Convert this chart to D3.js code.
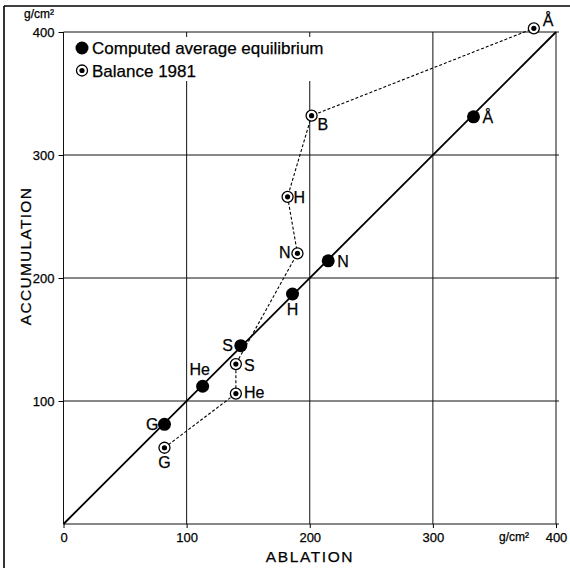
<!DOCTYPE html>
<html>
<head>
<meta charset="utf-8">
<script src="https://cdn.jsdelivr.net/npm/d3@7/dist/d3.min.js"></script>
<style>
  html, body { margin: 0; padding: 0; background: #fff; }
  svg { display: block; font-family: "Liberation Sans", Arial, Helvetica, sans-serif; }
  text { fill: #000; stroke: #000; stroke-width: 0.25; }
</style>
</head>
<body>
<svg id="chart" width="570" height="568"></svg>
<script>
// ---- data ----
const tickValues = [0, 100, 200, 300, 400];
const unitLabel = "g/cm²";
const xTitle = "ABLATION";
const yTitle = "ACCUMULATION";
const legendLabels = ["Computed average equilibrium", "Balance 1981"];

const compStations = ["G", "He", "S", "H", "N", "Å"];
const compAblation = [82, 113, 144, 186, 215, 333];
const compAccumulation = [81, 112, 145, 187, 214, 331];

const balStations = ["G", "He", "S", "N", "H", "B", "Å"];
const balAblation = [82, 140, 140, 190, 182, 201.5, 382];
const balAccumulation = [62, 106, 130, 220, 266, 332, 403];

// label placement (presentation only)
const compLabelPos = [[-6, 6, "end"], [-3, -11, "middle"], [-8, 5, "end"], [0, 21, "middle"], [9, 6, "start"], [9, 6, "start"]];
const balLabelPos = [[0, 20, "middle"], [8, 4, "start"], [8, 7, "start"], [-7, 5, "end"], [6, 6, "start"], [6, 14, "start"], [9, -2, "start"]];

// ---- drawing ----
const svg = d3.select("#chart");
const x = d3.scaleLinear().domain([0, 400]).range([63.5, 556]);
const y = d3.scaleLinear().domain([0, 400]).range([524, 32]);

// frame (left and top edges)
svg.append("line").attr("x1", 4).attr("x2", 4).attr("y1", 6).attr("y2", 568)
  .attr("stroke", "#000").attr("stroke-width", 1.6);
svg.append("line").attr("x1", 4).attr("x2", 570).attr("y1", 6).attr("y2", 6)
  .attr("stroke", "#000").attr("stroke-width", 1.6);

// grid
const grid = svg.append("g").attr("stroke", "#111").attr("stroke-width", 1);
tickValues.forEach(v => {
  grid.append("line").attr("x1", x(v)).attr("x2", x(v)).attr("y1", y(0)).attr("y2", y(400));
  grid.append("line").attr("x1", x(0)).attr("x2", x(400) + 3).attr("y1", y(v)).attr("y2", y(v));
});

// axes
const xAxis = d3.axisBottom(x).tickValues(tickValues).tickSize(4).tickPadding(5).tickFormat(d3.format("d"));
const gx = svg.append("g").attr("transform", `translate(0,${y(0)})`).call(xAxis);
gx.select(".domain").remove();
gx.selectAll("text").attr("font-size", 13).attr("font-family", "Liberation Sans, Arial, sans-serif").attr("fill", "#000");
gx.selectAll("line").attr("stroke", "#000");

const yAxis = d3.axisLeft(y).tickValues(tickValues.slice(1)).tickSize(5).tickPadding(4).tickFormat(d3.format("d"));
const gy = svg.append("g").attr("transform", `translate(${x(0)},0)`).call(yAxis);
gy.select(".domain").remove();
gy.selectAll("text").attr("font-size", 13).attr("font-family", "Liberation Sans, Arial, sans-serif").attr("fill", "#000");
gy.selectAll("line").attr("stroke", "#000");

// unit labels
svg.append("text").attr("x", 39).attr("y", 18).attr("text-anchor", "middle")
  .attr("font-size", 12).text(unitLabel);
svg.append("text").attr("x", 514).attr("y", 541).attr("text-anchor", "middle")
  .attr("font-size", 12).text(unitLabel);

// axis titles
svg.append("text").attr("x", 310).attr("y", 562).attr("text-anchor", "middle")
  .attr("font-size", 15.5).attr("letter-spacing", 1.6).text(xTitle);
svg.append("text").attr("transform", "translate(31,256) rotate(-90)").attr("text-anchor", "middle")
  .attr("font-size", 15.5).attr("letter-spacing", 1.3).text(yTitle);

// equilibrium line
svg.append("line").attr("x1", x(0)).attr("y1", y(0)).attr("x2", x(400)).attr("y2", y(400))
  .attr("stroke", "#000").attr("stroke-width", 1.8);

// balance 1981 dashed path
const balData = balStations.map((s, i) => ({ s, a: balAblation[i], c: balAccumulation[i], p: balLabelPos[i] }));
svg.append("path").datum(balData)
  .attr("d", d3.line().x(d => x(d.a)).y(d => y(d.c)))
  .attr("fill", "none").attr("stroke", "#000").attr("stroke-width", 1.1).attr("stroke-dasharray", "3,2");

// computed points
const compData = compStations.map((s, i) => ({ s, a: compAblation[i], c: compAccumulation[i], p: compLabelPos[i] }));
svg.selectAll(".comp").data(compData).enter().append("circle")
  .attr("cx", d => x(d.a)).attr("cy", d => y(d.c)).attr("r", 6.5).attr("fill", "#000");
svg.selectAll(".compLab").data(compData).enter().append("text")
  .attr("x", d => x(d.a) + d.p[0]).attr("y", d => y(d.c) + d.p[1]).attr("text-anchor", d => d.p[2])
  .attr("font-size", 16).text(d => d.s);

// balance points
function ring(g, cx, cy) {
  g.append("circle").attr("cx", cx).attr("cy", cy).attr("r", 5.5).attr("fill", "#fff")
    .attr("stroke", "#000").attr("stroke-width", 1.3);
  g.append("circle").attr("cx", cx).attr("cy", cy).attr("r", 2.6).attr("fill", "#000");
}
balData.forEach(d => ring(svg, x(d.a), y(d.c)));
svg.selectAll(".balLab").data(balData).enter().append("text")
  .attr("x", d => x(d.a) + d.p[0]).attr("y", d => y(d.c) + d.p[1]).attr("text-anchor", d => d.p[2])
  .attr("font-size", 16).text(d => d.s);

// legend
const lg = svg.append("g");
lg.append("rect").attr("x", 72).attr("y", 37).attr("width", 262).attr("height", 44).attr("fill", "#fff");
lg.append("circle").attr("cx", 82).attr("cy", 48).attr("r", 6.5).attr("fill", "#000");
lg.append("text").attr("x", 92).attr("y", 54).attr("font-size", 17).text(legendLabels[0]);
ring(lg, 82, 70.5);
lg.append("text").attr("x", 92).attr("y", 76.5).attr("font-size", 17).text(legendLabels[1]);
</script>
</body>
</html>
